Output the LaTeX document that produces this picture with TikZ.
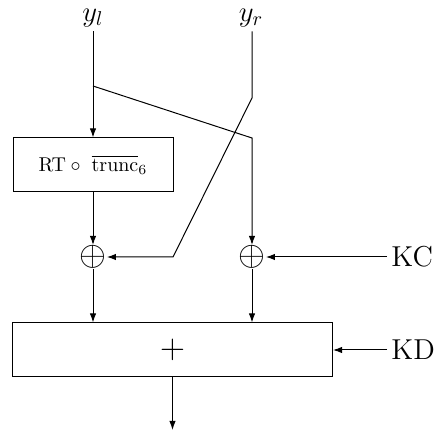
\documentclass[tikz,border=0pt]{standalone}
\usepackage{amsmath,amssymb}
\usepackage{tikz}
\usetikzlibrary{arrows.meta,calc,positioning}

\begin{document}
\begin{tikzpicture}[x=0.5pt, y=-0.5pt, line width=0.5pt,
        >={Latex[length=4.5pt,width=3.2pt]},
        fbox/.style={draw, minimum height=27pt, inner sep=0pt},
        xorop/.style={inner sep=0pt, font=\LARGE},
        lbl/.style={font=\Large, inner sep=2pt}]
    \useasboundingbox (0,0) rectangle (435,433);

    % Inputs
    \node[lbl] (yl) at (93,18) {$y_l$};
    \node[lbl] (yr) at (251,18) {$y_r$};

    % Round function and XORs
    \node[fbox, minimum width=80pt] (rt) at (93,165) {$\mathrm{RT}\circ\ \overline{\mathrm{trunc}}_6$};
    \node[xorop] (xl) at (93,257) {$\oplus$};
    \node[xorop] (xr) at (252,257) {$\oplus$};
    \node[lbl, anchor=west] (kc) at (387,257) {KC};

    % Key addition
    \node[fbox, minimum width=160pt, font=\LARGE] (add) at (172.5,350) {$+$};
    \node[lbl, anchor=west] (kd) at (387,350) {KD};

    % Wire points
    \coordinate (split) at (93,86);
    \coordinate (bend) at (252,138);
    \coordinate (kink) at (252,98);
    \coordinate (foot) at (173,257);
    \coordinate (out) at (172.5,430);

    % Left branch
    \draw[->] (yl.south -| rt.north) -- (rt.north);
    \draw[->] (rt) -- (xl);
    \draw[->] (split) -- (bend) -- (xr);
    % Right branch crossing over
    \draw[->] (yr.south -| kink) -- (kink) -- (foot) -- (xl);
    \draw[->] (kc) -- (xr);

    % Into the adder
    \draw[->] (xl) -- (xl |- add.north);
    \draw[->] (xr) -- (xr |- add.north);
    \draw[->] (kd) -- (add);
    \draw[->] (add) -- (out);
\end{tikzpicture}
\end{document}
